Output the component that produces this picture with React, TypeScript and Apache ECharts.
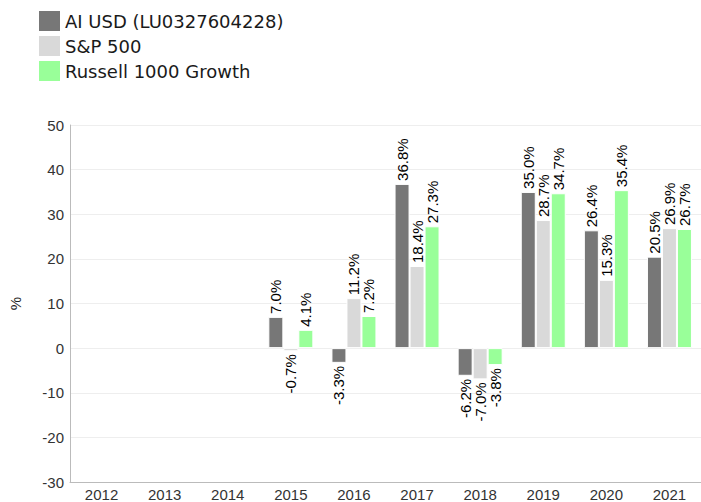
import React, { useEffect, useRef } from "react";
import * as echarts from "echarts";

const years = ["2012", "2013", "2014", "2015", "2016", "2017", "2018", "2019", "2020", "2021"];
const seriesNames = ["AI USD (LU0327604228)", "S&P 500", "Russell 1000 Growth"];
const aiUsd: (number | null)[] = [null, null, null, 7.0, -3.3, 36.8, -6.2, 35.0, 26.4, 20.5];
const sp500: (number | null)[] = [null, null, null, -0.7, 11.2, 18.4, -7.0, 28.7, 15.3, 26.9];
const russell: (number | null)[] = [null, null, null, 4.1, 7.2, 27.3, -3.8, 34.7, 35.4, 26.7];
const colors = ["#777777", "#d9d9d9", "#99ff99"];

function toData(arr: (number | null)[]) {
  return arr.map((v) =>
    v === null
      ? null
      : { value: v, label: { align: v >= 0 ? "left" : "right" } }
  );
}

export default function App() {
  const ref = useRef<HTMLDivElement>(null);
  useEffect(() => {
    if (!ref.current) return;
    const chart = echarts.init(ref.current, null, { renderer: "svg" });
    const all = [aiUsd, sp500, russell];
    chart.setOption({
      animation: false,
      backgroundColor: "#ffffff",
      legend: {
        orient: "vertical",
        left: 34,
        top: 6,
        itemWidth: 21,
        itemHeight: 20,
        itemGap: 5,
        icon: "rect",
        itemStyle: { borderWidth: 0 },
        textStyle: { fontFamily: "DejaVu Sans", fontSize: 18, color: "#1a1a1a" },
        data: seriesNames,
      },
      grid: { left: 63, right: -6, top: 125, bottom: 20 },
      xAxis: {
        type: "category",
        data: years,
        axisLine: { onZero: false, lineStyle: { color: "#bbbbbb" } },
        axisTick: { show: false },
        axisLabel: { fontFamily: "Liberation Sans", fontSize: 15, color: "#333333", margin: 5 },
        splitLine: { show: false },
      },
      yAxis: {
        type: "value",
        min: -30,
        max: 50,
        interval: 10,
        name: "%",
        nameLocation: "middle",
        nameRotate: 90,
        nameGap: 47,
        nameTextStyle: { fontFamily: "Liberation Sans", fontSize: 15, color: "#222222" },
        axisLine: { show: true, lineStyle: { color: "#bbbbbb" } },
        axisTick: { show: false },
        axisLabel: { fontFamily: "Liberation Sans", fontSize: 15, color: "#333333", margin: 6 },
        splitLine: { lineStyle: { color: "#eeeeee" } },
      },
      series: seriesNames.map((name, i) => ({
        name,
        type: "bar",
        data: toData(all[i]),
        barWidth: 15,
        barGap: "0%",
        itemStyle: { color: colors[i], borderColor: "#ffffff", borderWidth: 1 },
        label: {
          show: true,
          position: "outside",
          rotate: 90,
          distance: 3,
          verticalAlign: "middle",
          fontFamily: "Liberation Sans",
          fontSize: 15,
          color: "#000000",
          formatter: (p: any) => `${Number(p.value).toFixed(1)}%`,
        },
      })),
    });
    return () => chart.dispose();
  }, []);
  return (
    <div
      ref={ref}
      style={{ position: "absolute", left: 0, top: 0, width: 701, height: 502 }}
    />
  );
}
